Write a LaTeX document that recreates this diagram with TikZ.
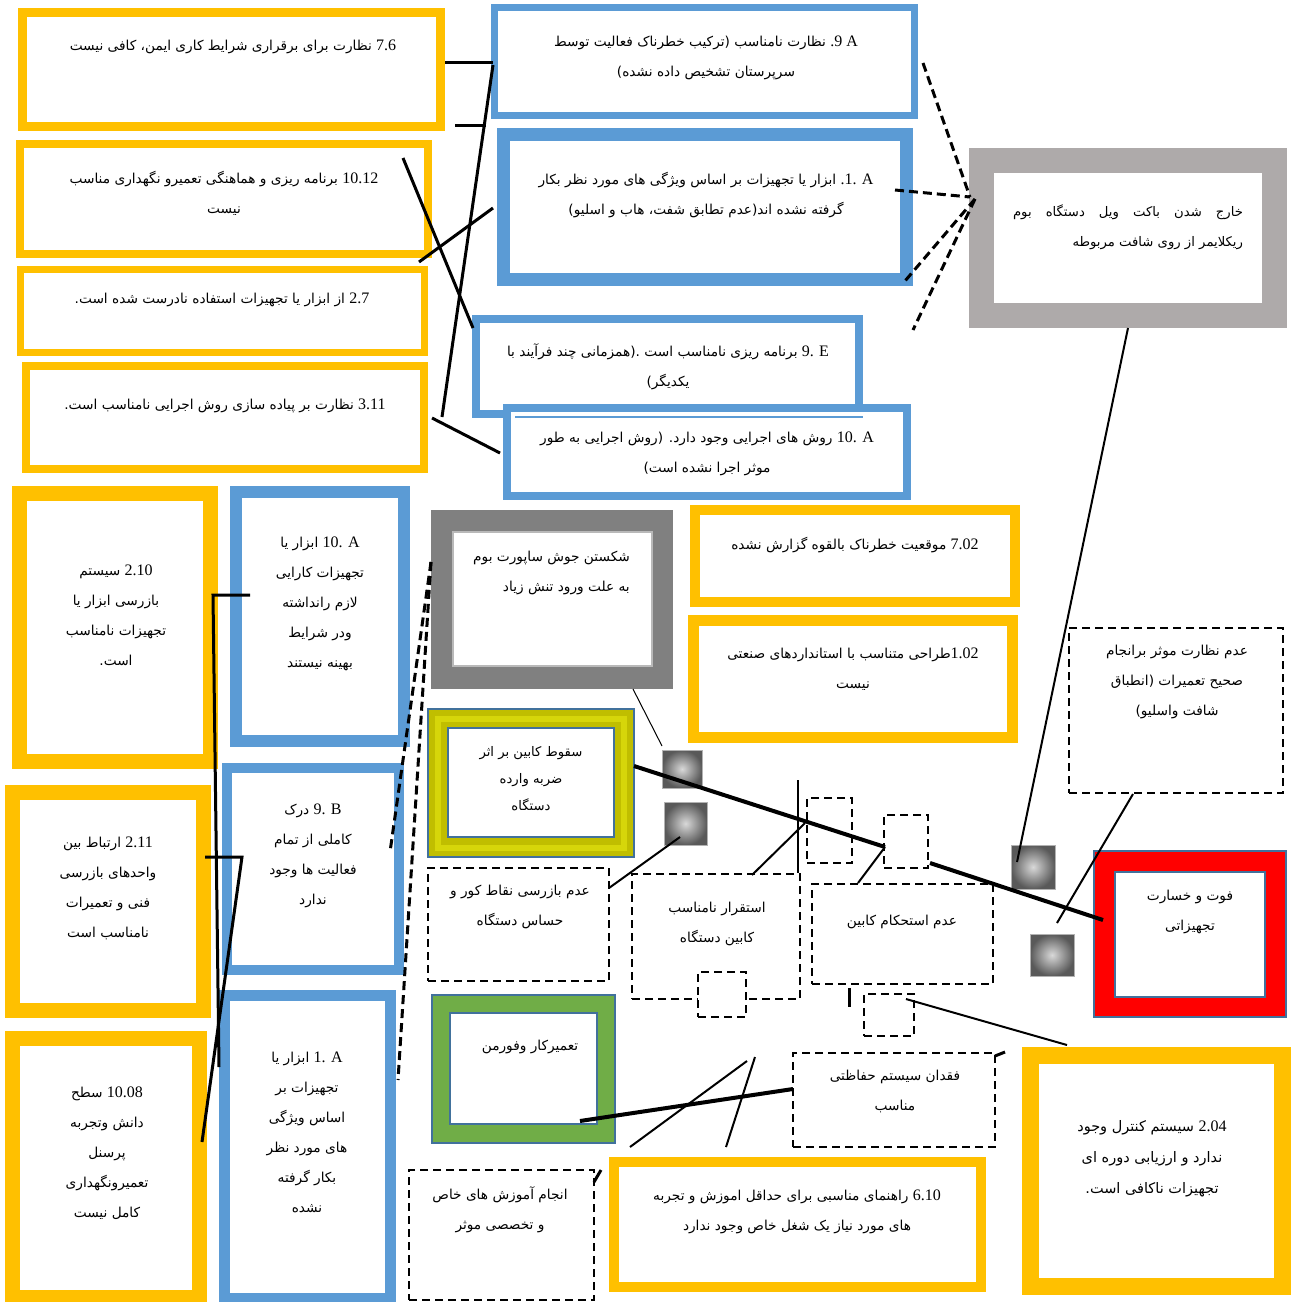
\documentclass[tikz,border=0pt]{standalone}
\usepackage{fontspec}
\setmainfont{Liberation Serif}
\newfontfamily\fafont[Script=Arabic]{DejaVu Sans}
\newfontfamily\latf{Liberation Serif}
\TeXXeTstate=1
\newcommand\prs[1]{\leavevmode\beginR #1\endR}
\newcommand\ltn[1]{\beginL{\latf\fontsize{16}{30}\selectfont #1}\endL}
\definecolor{ybox}{HTML}{FFC000}
\definecolor{bbox}{HTML}{5B9BD5}
\definecolor{gbox}{HTML}{AEAAAA}
\definecolor{dgbox}{HTML}{808080}
\definecolor{grbox}{HTML}{70AD47}
\definecolor{edgec}{HTML}{41719C}
\definecolor{olivec}{HTML}{C0BE00}
\definecolor{olivel}{HTML}{D6D60A}
\begin{document}
\begin{tikzpicture}[x=1pt,y=-1pt,
  frm/.style={line width=#1, fill=white, inner sep=0pt, outer sep=0pt},
  txt/.style={font=\fafont\fontsize{13.7}{30}\selectfont, align=center, inner sep=0pt},
  dbox/.style={draw, line width=2pt, dash pattern=on 8pt off 5pt, fill=white, inner sep=0pt, outer sep=0pt},
  sq/.style={draw=gray!60, line width=1pt, inner color=gray!30, outer color=gray!70!black, inner sep=0pt},
  ln/.style={line width=3pt},
  tln/.style={line width=2pt},
  hln/.style={line width=4pt},
  dln/.style={line width=3pt, dash pattern=on 9pt off 5pt},
  edgeline/.style={draw=edgec, line width=1.5pt}]
\path[use as bounding box] (0,0) rectangle (1291,1302);

% ---------- top left yellow boxes
\node[frm=9pt, draw=ybox, minimum width=418pt, minimum height=114pt] (y1) at (231.5,69.5) {};
\node[frm=8pt, draw=ybox, minimum width=408pt, minimum height=110pt] (y2) at (224,199) {};
\node[frm=7pt, draw=ybox, minimum width=404pt, minimum height=83pt] (y3) at (222.5,311) {};
\node[frm=8pt, draw=ybox, minimum width=398pt, minimum height=103pt] (y4) at (225,417.5) {};

% ---------- top blue boxes
\node[frm=7pt, draw=bbox, minimum width=420pt, minimum height=108pt] (b1) at (704.5,61.5) {};
\node[frm=13pt, draw=bbox, minimum width=403pt, minimum height=145pt] (b2) at (705,207) {};
\node[frm=8pt, draw=bbox, minimum width=383pt, minimum height=95pt] (b3) at (667.5,366.5) {};
\node[frm=8pt, draw=bbox, minimum width=400pt, minimum height=88pt] (b4) at (707,452) {};
\draw[draw=bbox, line width=1.5pt] (515,417) -- (863,417);

% ---------- top right gray box
\node[frm=25pt, draw=gbox, minimum width=293pt, minimum height=155pt] (g1) at (1128,238) {};

% ---------- left column
\node[frm=15pt, draw=ybox, minimum width=191pt, minimum height=268pt] (y5) at (115,627.5) {};
\node[frm=12pt, draw=bbox, minimum width=168pt, minimum height=249pt] (b5) at (320,616.5) {};
\node[frm=15pt, draw=ybox, minimum width=191pt, minimum height=218pt] (y6) at (108,901.5) {};
\node[frm=10pt, draw=bbox, minimum width=172pt, minimum height=202pt] (b6) at (313,869) {};
\node[frm=15pt, draw=ybox, minimum width=187pt, minimum height=259pt] (y7) at (106,1168) {};
\node[frm=11pt, draw=bbox, minimum width=166pt, minimum height=303pt] (b7) at (307.5,1147) {};

% ---------- middle boxes
\node[frm=22pt, draw=dgbox, minimum width=220pt, minimum height=157pt] (g2) at (552,599.5) {};
\draw[draw=gray!55, line width=1.5pt] (453,532) rectangle (652,666);
\node[frm=10pt, draw=ybox, minimum width=320pt, minimum height=92pt] (y8) at (855,556) {};
\node[frm=11pt, draw=ybox, minimum width=319pt, minimum height=117pt] (y9) at (853,679) {};

\node[frm=19pt, draw=olivec, minimum width=187pt, minimum height=129pt] (yg) at (531,783) {};
\draw[draw=olivel, line width=6pt] (438,718.5) rectangle (624,847.5);
\draw[edgeline] (428,709) rectangle (634,857);
\draw[edgeline, line width=2pt] (448,728) rectangle (614,837);

\node[frm=18pt, draw=grbox, minimum width=165pt, minimum height=130pt] (gr) at (523.5,1069) {};
\draw[edgeline] (432,995) rectangle (615,1143);
\draw[edgeline, line width=2pt] (450,1013) rectangle (597,1124);

\node[frm=21pt, draw=red, minimum width=171pt, minimum height=145pt] (rd) at (1190,934) {};
\draw[edgeline] (1094,851) rectangle (1286,1017);
\draw[edgeline, line width=2pt] (1115,872) rectangle (1265,997);

\node[frm=10pt, draw=ybox, minimum width=367pt, minimum height=125pt] (y10) at (797.5,1224.5) {};
\node[frm=17pt, draw=ybox, minimum width=252pt, minimum height=231pt] (y11) at (1156.5,1171) {};

% ---------- dashed boxes
\node[dbox, minimum width=181pt, minimum height=113pt] (d1) at (518.5,924.5) {};
\node[dbox, minimum width=168pt, minimum height=125pt] (d2) at (716,936.5) {};
\node[dbox, minimum width=48pt, minimum height=45pt] (q4) at (722,994.5) {};
\node[dbox, minimum width=181pt, minimum height=100pt] (d3) at (902.5,934) {};
\node[dbox, minimum width=45pt, minimum height=65pt] (q1) at (829.5,830.5) {};
\node[dbox, minimum width=44pt, minimum height=53pt] (q2) at (906,841.5) {};
\node[dbox, minimum width=50pt, minimum height=42pt] (q3) at (889,1015) {};
\node[dbox, minimum width=214pt, minimum height=165pt] (d4) at (1176,710.5) {};
\node[dbox, minimum width=202pt, minimum height=94pt] (d5) at (894,1100) {};
\node[dbox, minimum width=185pt, minimum height=130pt] (d6) at (501.5,1235) {};

% ---------- gray squares
\node[sq, minimum width=40pt, minimum height=38pt] (s1) at (682,769) {};
\node[sq, minimum width=43pt, minimum height=43pt] (s2) at (685.5,823.5) {};
\node[sq, minimum width=44pt, minimum height=44pt] (s3) at (1033,867) {};
\node[sq, minimum width=44pt, minimum height=42pt] (s4) at (1052,955) {};

% ---------- texts
\node[txt] (y1t) at (233,47) {\prs{\ltn{7.6} نظارت برای برقراری شرایط کاری ایمن، کافی نیست}};
\node[txt] (y2t) at (224,193) {\prs{\ltn{10.12} برنامه ریزی و هماهنگی تعمیرو نگهداری مناسب}\\\prs{نیست}};
\node[txt] (y3t) at (222,300) {\prs{\ltn{2.7} از ابزار یا تجهیزات استفاده نادرست شده است.}};
\node[txt] (y4t) at (225,406) {\prs{\ltn{3.11} نظارت بر پیاده سازی روش اجرایی نامناسب است.}};
\node[txt] (b1t) at (706,57.5) {\prs{\ltn{.9 A} نظارت نامناسب (ترکیب خطرناک فعالیت توسط}\\\prs{سرپرستان تشخیص داده نشده)}};
\node[txt] (b2t) at (706,195) {\prs{\ltn{.1. A} ابزار یا تجهیزات بر اساس ویژگی های مورد نظر بکار}\\\prs{گرفته نشده اند(عدم تطابق شفت، هاب و اسلیو)}};
\node[txt] (b3t) at (668,366.5) {\prs{\ltn{9. E} برنامه ریزی نامناسب است .(همزمانی چند فرآیند با}\\\prs{یکدیگر)}};
\node[txt] (b4t) at (707,453.5) {\prs{\ltn{10. A} روش های اجرایی وجود دارد. (روش اجرایی به طور}\\\prs{موثر اجرا نشده است)}};
\node[txt, font=\fafont\fontsize{13.2}{30}\selectfont] (g1t) at (1128,227) {\hbox to 230pt{\beginR خارج\hfill شدن\hfill باکت\hfill ویل\hfill دستگاه\hfill بوم\endR}\\\hbox to 230pt{\beginR ریکلایمر از روی شافت مربوطه\hfill\endR}};

\node[txt] (y5t) at (116,615) {\prs{\ltn{2.10} سیستم}\\\prs{بازرسی ابزار یا}\\\prs{تجهیزات نامناسب}\\\prs{است.}};
\node[txt] (b5t) at (320,604) {\prs{\ltn{10. A} ابزار یا}\\\prs{تجهیزات کارایی}\\\prs{لازم رانداشته}\\\prs{ودر شرایط}\\\prs{بهینه نیستند}};
\node[txt] (y6t) at (108,888) {\prs{\ltn{2.11} ارتباط بین}\\\prs{واحدهای بازرسی}\\\prs{فنی و تعمیرات}\\\prs{نامناسب است}};
\node[txt] (b6t) at (313,856) {\prs{\ltn{9. B} درک}\\\prs{کاملی از تمام}\\\prs{فعالیت ها وجود}\\\prs{ندارد}};
\node[txt] (y7t) at (107,1153) {\prs{\ltn{10.08} سطح}\\\prs{دانش وتجربه}\\\prs{پرسنل}\\\prs{تعمیرونگهداری}\\\prs{کامل نیست}};
\node[txt] (b7t) at (307,1132) {\prs{\ltn{1. A} ابزار یا}\\\prs{تجهیزات بر}\\\prs{اساس ویژگی}\\\prs{های مورد نظر}\\\prs{بکار گرفته}\\\prs{نشده}};

\node[txt, align=right, anchor=east] (g2t) at (630,573) {\prs{شکستن جوش ساپورت بوم}\\\prs{به علت ورود تنش زیاد}};
\node[txt] (y8t) at (855,545) {\prs{\ltn{7.02} موقعیت خطرناک بالقوه گزارش نشده}};
\node[txt] (y9t) at (853,669) {\prs{\ltn{1.02}طراحی متناسب با استانداردهای صنعتی}\\\prs{نیست}};
\node[txt, font=\fafont\fontsize{13.2}{27}\selectfont] (ygt) at (531,779) {\prs{سقوط کابین بر اثر}\\\prs{ضربه وارده}\\\prs{دستگاه}};
\node[txt] (d1t) at (520,907) {\prs{عدم بازرسی نقاط کور و}\\\prs{حساس دستگاه}};
\node[txt] (d2t) at (717,924) {\prs{استقرار نامناسب}\\\prs{کابین دستگاه}};
\node[txt] (d3t) at (902,922) {\prs{عدم استحکام کابین}};
\node[txt] (d4t) at (1177,682) {\prs{عدم نظارت موثر برانجام}\\\prs{صحیح تعمیرات (انطباق}\\\prs{شافت واسلیو)}};
\node[txt] (rdt) at (1190,912) {\prs{فوت و خسارت}\\\prs{تجهیزاتی}};
\node[txt] (grt) at (530,1047) {\prs{تعمیرکار وفورمن}};
\node[txt] (d5t) at (895,1091) {\prs{فقدان سیستم حفاظتی}\\\prs{مناسب}};
\node[txt] (d6t) at (500,1210) {\prs{انجام آموزش های خاص}\\\prs{و تخصصی موثر}};
\node[txt] (y10t) at (797,1212) {\prs{\ltn{6.10} راهنمای مناسبی برای حداقل اموزش و تجربه}\\\prs{های مورد نیاز یک شغل خاص وجود ندارد}};
\node[txt, font=\fafont\fontsize{14.5}{31}\selectfont] (y11t) at (1152,1159) {\prs{\ltn{2.04} سیستم کنترل وجود}\\\prs{ندارد و ارزیابی دوره ای}\\\prs{تجهیزات ناکافی است.}};

% ---------- connector end points
\coordinate (c1a) at (445,62);   \coordinate (c1b) at (493,62);
\coordinate (c2a) at (455,125);  \coordinate (c2b) at (486,125);
\coordinate (c3a) at (493,65);   \coordinate (c3b) at (442,417);
\coordinate (c4a) at (403,158);  \coordinate (c4b) at (473,328);
\coordinate (c5a) at (493,208);  \coordinate (c5b) at (419,262);
\coordinate (c6a) at (432,418);  \coordinate (c6b) at (500,453);
\coordinate (hub) at (970,197);  \coordinate (hub2) at (975,199);
\coordinate (d1a) at (923,63);   \coordinate (d2a) at (895,190);
\coordinate (d3a) at (905,281);  \coordinate (d4a) at (913,330);
\coordinate (g1b) at (1128,328); \coordinate (s3t) at (1017,862);
\coordinate (e1a) at (250,595);  \coordinate (e1b) at (213,595); \coordinate (e1c) at (219,1067);
\coordinate (e2a) at (205,857);  \coordinate (e2b) at (242,857); \coordinate (e2c) at (202,1142);
\coordinate (g2l) at (431,562);  \coordinate (b6r) at (390,852); \coordinate (b7r) at (398,1080);
\coordinate (g2b) at (633,689);  \coordinate (s1t) at (662,746);
\coordinate (ygr) at (634,766);  \coordinate (q2l) at (885,847);
\coordinate (q2r) at (930,863);  \coordinate (rdl) at (1103,920);
\coordinate (v1a) at (798,780);  \coordinate (v1b) at (798,873);
\coordinate (d2top) at (752,875); \coordinate (q1l) at (805,823);
\coordinate (d3top) at (858,883);
\coordinate (d1r) at (609,888);  \coordinate (s2b) at (680,837);
\coordinate (v2a) at (849,988);  \coordinate (v2b) at (849,1007);
\coordinate (q3r) at (906,999);  \coordinate (y11top) at (1067,1045);
\coordinate (d4b) at (1133,794); \coordinate (s4t) at (1057,923);
\coordinate (grr) at (580,1121); \coordinate (d5l) at (793,1089);
\coordinate (y10a) at (630,1147); \coordinate (x1) at (747,1061);
\coordinate (y10b) at (726,1147); \coordinate (x2) at (755,1057);
\coordinate (t1a) at (995,1056); \coordinate (t1b) at (1005,1052);
\coordinate (t2a) at (594,1182); \coordinate (t2b) at (601,1170);

% ---------- connectors
\draw[ln] (c1a) -- (c1b);
\draw[ln] (c2a) -- (c2b);
\draw[ln] (c3a) -- (c3b);
\draw[ln] (c4a) -- (c4b);
\draw[ln] (c5a) -- (c5b);
\draw[ln] (c6a) -- (c6b);
\draw[dln] (d1a) -- (hub);
\draw[dln] (d2a) -- (hub);
\draw[dln] (hub2) -- (d3a);
\draw[dln] (hub2) -- (d4a);
\draw[tln] (g1b) -- (s3t);
\draw[ln] (e1a) -- (e1b) -- (e1c);
\draw[ln] (e2a) -- (e2b) -- (e2c);
\draw[dln] (g2l) -- (b6r);
\draw[dln] (g2l) -- (b7r);
\draw[line width=1pt] (g2b) -- (s1t);
\draw[hln] (ygr) -- (q2l);
\draw[hln] (q2r) -- (rdl);
\draw[tln] (v1a) -- (v1b);
\draw[tln] (d2top) -- (q1l);
\draw[tln] (d3top) -- (q2l);
\draw[tln] (d1r) -- (s2b);
\draw[ln] (v2a) -- (v2b);
\draw[tln] (q3r) -- (y11top);
\draw[tln] (d4b) -- (s4t);
\draw[hln] (grr) -- (d5l);
\draw[tln] (y10a) -- (x1);
\draw[tln] (y10b) -- (x2);
\draw[ln] (t1a) -- (t1b);
\draw[ln] (t2a) -- (t2b);
\end{tikzpicture}
\end{document}
